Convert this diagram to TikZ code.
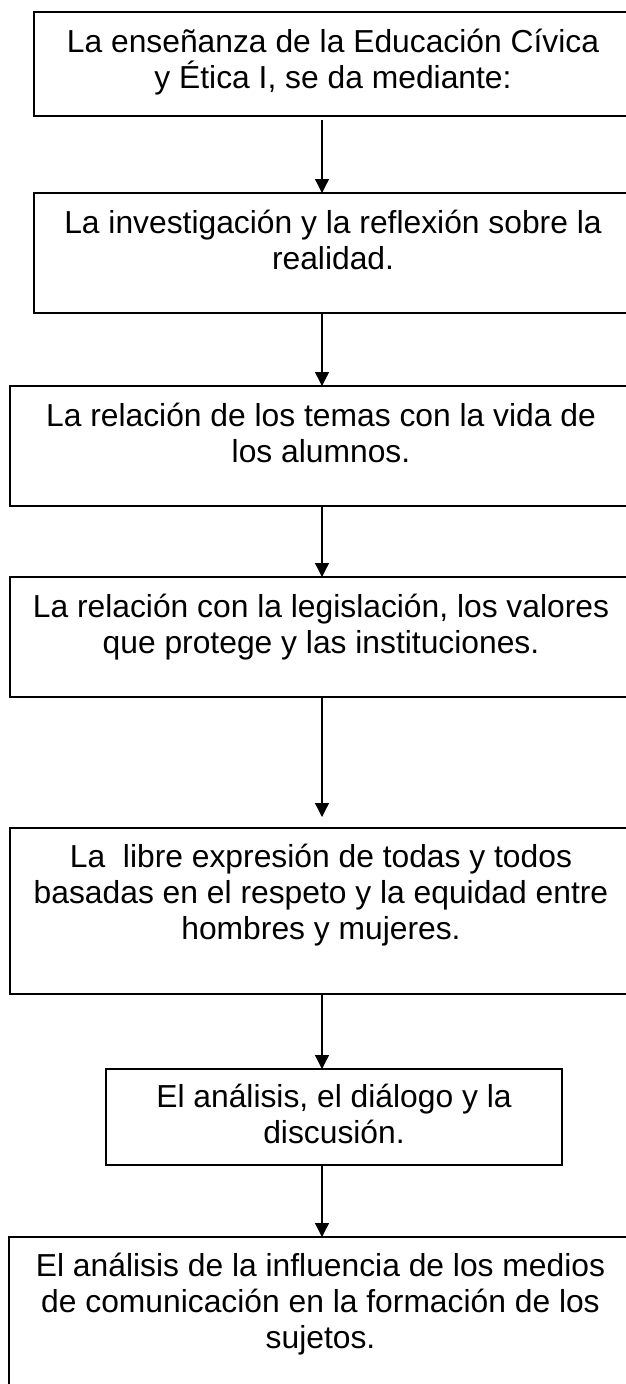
\documentclass[tikz,border=0pt]{standalone}
\usepackage{fontspec}
\setmainfont{Liberation Sans}
\usetikzlibrary{arrows.meta, positioning}
\tikzset{
  etapa/.style={draw, line width=1.3pt, anchor=north west, inner sep=0pt, outer sep=0pt},
  texto/.style={anchor=north, inner sep=0pt, outer sep=0pt, align=center, font=\fontsize{31.8}{36}\selectfont},
  flecha/.style={line width=1.3pt, -{Triangle[width=14pt,length=14pt]}}
}
\newcommand{\primera}{\rule{0pt}{30pt}}

\begin{document}
\begin{tikzpicture}[x=1pt,y=-1pt]
\useasboundingbox (0,0) rectangle (626,1384);
\clip (0,0) rectangle (626,1384);
%boxes
\node[etapa, minimum width=598, minimum height=104] (b1) at (34,12) {};
\node[etapa, minimum width=598, minimum height=120] (b2) at (34,193) {};
\node[etapa, minimum width=622, minimum height=120] (b3) at (10,386) {};
\node[etapa, minimum width=622, minimum height=120] (b4) at (10,577) {};
\node[etapa, minimum width=622, minimum height=166] (b5) at (10,828) {};
\node[etapa, minimum width=456, minimum height=96] (b6) at (106,1069) {};
\node[etapa, minimum width=623, minimum height=170] (b7) at (9,1237) {};
%texts
\node[texto, below=10pt of b1.north] (t1) {\primera La enseñanza de la Educación Cívica\\ y Ética I, se da mediante:};
\node[texto, below=10pt of b2.north] (t2) {\primera La investigación y la reflexión sobre la\\ realidad.};
\node[texto, below=10pt of b3.north] (t3) {\primera La relación de los temas con la vida de\\ los alumnos.};
\node[texto, below=10pt of b4.north] (t4) {\primera La relación con la legislación, los valores\\ que protege y las instituciones.};
\node[texto, below=9pt of b5.north] (t5) {\primera La~~libre expresión de todas y todos\\ basadas en el respeto y la equidad entre\\ hombres y mujeres.};
\node[texto, below=8pt of b6.north] (t6) {\primera El análisis, el diálogo y la\\ discusión.};
\node[texto, below=9pt of b7.north] (t7) {\primera El análisis de la influencia de los medios\\ de comunicación en la formación de los\\ sujetos.};
%arrows
\coordinate (eje) at (322,0);
\draw[flecha, shorten <=4pt] (b1.south -| eje) -- (b2.north -| eje);
\draw[flecha] (b2.south -| eje) -- (b3.north -| eje);
\draw[flecha] (b3.south -| eje) -- (b4.north -| eje);
\draw[flecha, shorten >=11pt] (b4.south -| eje) -- (b5.north -| eje);
\draw[flecha] (b5.south -| eje) -- (b6.north -| eje);
\draw[flecha] (b6.south -| eje) -- (b7.north -| eje);
\end{tikzpicture}
\end{document}
